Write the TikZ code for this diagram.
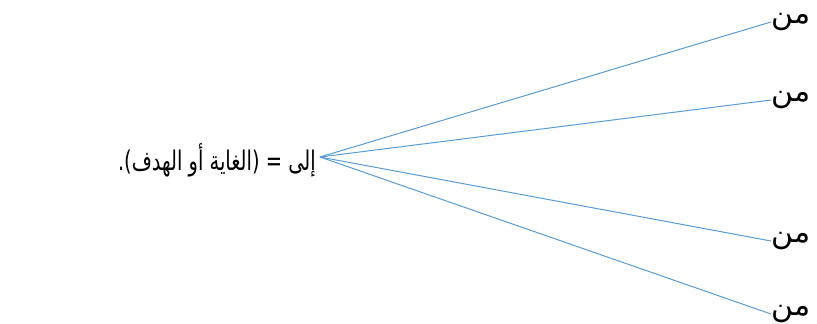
\documentclass[tikz,border=0pt]{standalone}
\usepackage{fontspec}
\usepackage{graphicx}
\TeXXeTstate=1
\newfontfamily\arabicfont[Script=Arabic]{DejaVu Sans}
\definecolor{lineblue}{RGB}{91,155,213}
\begin{document}
\begin{tikzpicture}[x=1pt,y=-1pt,
  ar/.style={inner sep=0pt,font=\arabicfont\fontsize{27}{31}\selectfont},
  mn/.style={inner sep=0pt,font=\arabicfont\fontsize{30}{34}\selectfont},
  conn/.style={draw=lineblue,line width=1pt}]
\useasboundingbox (0,0) rectangle (817,324);
\node[ar,anchor=east] (left) at (316,160) {\scalebox{0.72}[1]{\beginR إلى = (الغاية أو الهدف).\endR}};
\coordinate (hub) at (320,157);
\node[mn,anchor=west] (r1) at (771,22) {\beginR من\endR};
\node[mn,anchor=west] (r2) at (771,100) {\beginR من\endR};
\node[mn,anchor=west] (r3) at (771,241) {\beginR من\endR};
\node[mn,anchor=west] (r4) at (771,314) {\beginR من\endR};
\draw[conn] (hub) -- (r1.west);
\draw[conn] (hub) -- (r2.west);
\draw[conn] (hub) -- (r3.west);
\draw[conn] (hub) -- (r4.west);
\end{tikzpicture}
\end{document}
